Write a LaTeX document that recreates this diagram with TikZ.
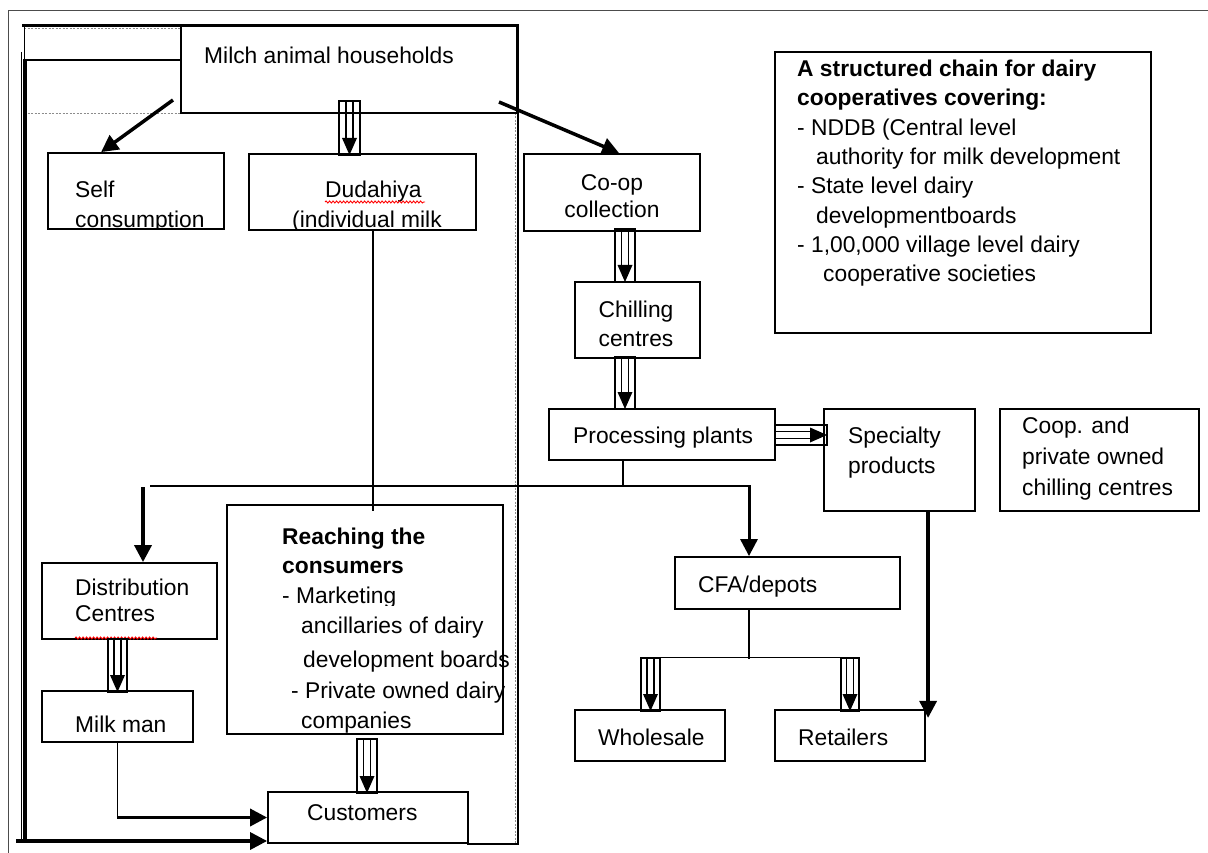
\documentclass[tikz,border=0pt]{standalone}
\usepackage{fontspec}
\setmainfont{Liberation Sans}
\usetikzlibrary{arrows.meta,fit,calc,decorations.pathmorphing}

\begin{document}
\begin{tikzpicture}[x=1pt,y=-1pt,
  box/.style={draw, line width=1.8pt, inner sep=0pt},
  txt/.style={inner sep=0pt, anchor=base west, font=\fontsize{22.8}{27}\selectfont},
  ctxt/.style={txt, anchor=base},
  btxt/.style={txt, font=\fontsize{22.8}{27}\selectfont\bfseries},
  thinline/.style={line width=1.5pt},
  heavy/.style={line width=3.5pt, -{Triangle[width=17pt,length=17pt]}},
  spell/.style={red, line width=0.9pt, decorate, decoration={snake, amplitude=1pt, segment length=3.5pt}},
  dotline/.style={black!45, line width=0.8pt, dash pattern=on 2pt off 1.5pt},
  blockdown/.style={draw, line width=1.5pt, inner sep=0pt, path picture={
     \draw[line width=1.3pt]
       ([xshift=-3.5pt]path picture bounding box.north) -- ([xshift=-3.5pt,yshift=16pt]path picture bounding box.south)
       ([xshift=3.5pt]path picture bounding box.north) -- ([xshift=3.5pt,yshift=16pt]path picture bounding box.south);
     \fill ([xshift=-7.5pt,yshift=17pt]path picture bounding box.south)
       -- ([xshift=7.5pt,yshift=17pt]path picture bounding box.south)
       -- (path picture bounding box.south) -- cycle;}},
  blockright/.style={draw, line width=1.5pt, inner sep=0pt, path picture={
     \draw[line width=1.3pt]
       ([yshift=3.5pt]path picture bounding box.west) -- ([yshift=3.5pt,xshift=-16pt]path picture bounding box.east)
       ([yshift=-3.5pt]path picture bounding box.west) -- ([yshift=-3.5pt,xshift=-16pt]path picture bounding box.east);
     \fill ([yshift=7.5pt,xshift=-17pt]path picture bounding box.east)
       -- ([yshift=-7.5pt,xshift=-17pt]path picture bounding box.east)
       -- (path picture bounding box.east) -- cycle;}}
]
\useasboundingbox (0,0) rectangle (1208,853);

% page frame and the framed left-hand column
\draw[black!70, line width=1pt] (8,853) -- (8,11) -- (1208,11);
\draw[line width=1pt] (21,52) -- (21,842);
\draw[dotline] (24,28) -- (181,28) (24,113) -- (181,113) (515,113) -- (515,843);
\draw[line width=1pt] (24,26) -- (24,60);
\draw[line width=2pt] (24,60) -- (181,60);
\draw[line width=4.5pt] (25,59) -- (25,843);
\draw[line width=1.5pt] (518,113) -- (518,844) -- (467,844);

% boxes
\node[box, fit={(181,26) (517,113)}] (milch) {};
\node[box, fit={(48,153) (224,229)}] (self) {};
\node[box, fit={(249,154) (476,230)}] (dud) {};
\node[box, fit={(524,154) (700,231)}] (coop) {};
\node[box, fit={(575,282) (700,358)}] (chill) {};
\node[box, fit={(549,409) (775,460)}] (proc) {};
\node[box, fit={(824,409) (975,511)}] (spec) {};
\node[box, fit={(1000,409) (1199,511)}] (priv) {};
\node[box, fit={(775,52) (1151,333)}] (chain) {};
\node[box, fit={(675,557) (900,609)}] (cfa) {};
\node[box, fit={(575,710) (725,761)}] (whole) {};
\node[box, fit={(775,710) (925,761)}] (retail) {};
\node[box, fit={(42,563) (217,639)}] (dist) {};
\node[box, fit={(42,691) (193,742)}] (mm) {};
\node[box, fit={(227,505) (503,734)}] (reach) {};
\node[box, fit={(268,792) (468,843)}] (cust) {};

% heavy top and right edge of the column frame
\draw[line width=3pt] (22,26) -- (518.5,26);
\draw[line width=3pt] (517,26) -- (517,113);

% texts
\node[txt] (tmilch) at (204,64) {Milch animal households};
\begin{scope}
  \clip (self.north west) rectangle (self.south east);
  \node[txt] (tself1) at (75,198) {Self};
  \node[txt] (tself2) at (75,228) {consumption};
\end{scope}
\begin{scope}
  \clip (dud.north west) rectangle (dud.south east);
  \node[txt] (tdud1) at (325,198) {Dudahiya};
  \node[txt] (tdud2) at (292,228) {(individual milk};
\end{scope}
\draw[spell] (325,202) -- (425,202);
\node[ctxt] (tcoop1) at (612,191) {Co-op};
\node[ctxt] (tcoop2) at (612,218) {collection};
\node[ctxt] (tchill1) at (636,317) {Chilling};
\node[ctxt] (tchill2) at (636,346) {centres};
\node[txt] (tproc) at (573,443) {Processing plants};
\node[txt] (tspec1) at (848,443) {Specialty};
\node[txt] (tspec2) at (848,473) {products};
\node[txt] (tpriv1) at (1022,433) {Coop. and};
\node[txt] (tpriv2) at (1022,464) {private owned};
\node[txt] (tpriv3) at (1022,495) {chilling centres};
\node[btxt] (tch1) at (797,77) {A structured chain for dairy};
\node[btxt] (tch2) at (797,106) {cooperatives covering:};
\node[txt] (tch3) at (797,135.5) {- NDDB (Central level};
\node[txt] (tch4) at (816,165) {authority for milk development};
\node[txt] (tch5) at (797,194) {- State level dairy};
\node[txt] (tch6) at (816,223.5) {developmentboards};
\node[txt] (tch7) at (797,253) {- 1,00,000 village level dairy};
\node[txt] (tch8) at (823,282) {cooperative societies};
\node[txt] (tcfa) at (698,592) {CFA/depots};
\node[txt] (twhole) at (598,745) {Wholesale};
\node[txt] (tretail) at (798,745) {Retailers};
\node[txt] (tdist1) at (75,595) {Distribution};
\node[txt] (tdist2) at (75,621) {Centres};
\draw[spell] (75,638) -- (157,638);
\node[txt] (tmm) at (75,732) {Milk man};
\node[btxt] (treach1) at (282,544) {Reaching the};
\node[btxt] (treach2) at (282,573) {consumers};
\begin{scope}
  \clip (227,560) rectangle (503,605);
  \node[txt] (treach3) at (282,603) {- Marketing};
\end{scope}
\node[txt] (treach4) at (301,633) {ancillaries of dairy};
\node[txt] (treach5) at (303,667) {development boards};
\node[txt] (treach6) at (291,698) {- Private owned dairy};
\node[txt] (treach7) at (301,728) {companies};
\node[txt] (tcust) at (307,820) {Customers};

% hollow block arrows
\node[blockdown, fit={(339,101) (360,155)}] (ba1) {};
\node[blockdown, fit={(615,229) (635,282)}] (ba2) {};
\node[blockdown, fit={(615,357) (635,409)}] (ba3) {};
\node[blockright, fit={(775,425) (827,445)}] (ba4) {};
\node[blockdown, fit={(641,658) (660,711)}] (ba5) {};
\node[blockdown, fit={(841,658) (859,711)}] (ba6) {};
\node[blockdown, fit={(108,639) (127,692)}] (ba7) {};
\node[blockdown, fit={(357,739) (377,793)}] (ba8) {};

% connectors
\coordinate (ms) at (173,100);
\draw[heavy] (ms) -- ($(self.north west)+(54,0)$);
\coordinate (mc) at (499,102);
\draw[heavy] (mc) -- ($(coop.north west)+(96,0)$);

\coordinate (u0) at ($(dud.south west)+(125,0)$);
\draw[thinline] (u0) -- ++(0,280);

\coordinate (p0) at ($(proc.south west)+(75,0)$);
\coordinate (h0) at (150,486);
\coordinate (h1) at (749,486);
\draw[thinline] (p0) -- (p0 |- h1);
\draw[thinline] (h0) -- (h1);
\draw[heavy, line width=3pt] ([yshift=0.75pt]h1) -- (h1 |- cfa.north);
\coordinate (d0) at (143,487);
\draw[heavy] (d0) -- (d0 |- dist.north);

\coordinate (c0) at (cfa.south -| h1);
\coordinate (c1) at (749,659);
\draw[thinline] (c0) -- (c1);
\draw[thinline] (ba5.north) -- (ba6.north);

\coordinate (s0) at ($(spec.south west)+(105,0)$);
\draw[heavy] (s0) -- ++(0,206);

\coordinate (k1) at (mm.south |- cust.west);
\draw[thinline] (mm.south) -- (k1);
\draw[heavy] ([xshift=-0.75pt]k1) -- (cust.west);
\coordinate (b0) at (16,841);
\draw[heavy, line width=3.3pt] (b0) -- (b0 -| cust.west);
\end{tikzpicture}
\end{document}
